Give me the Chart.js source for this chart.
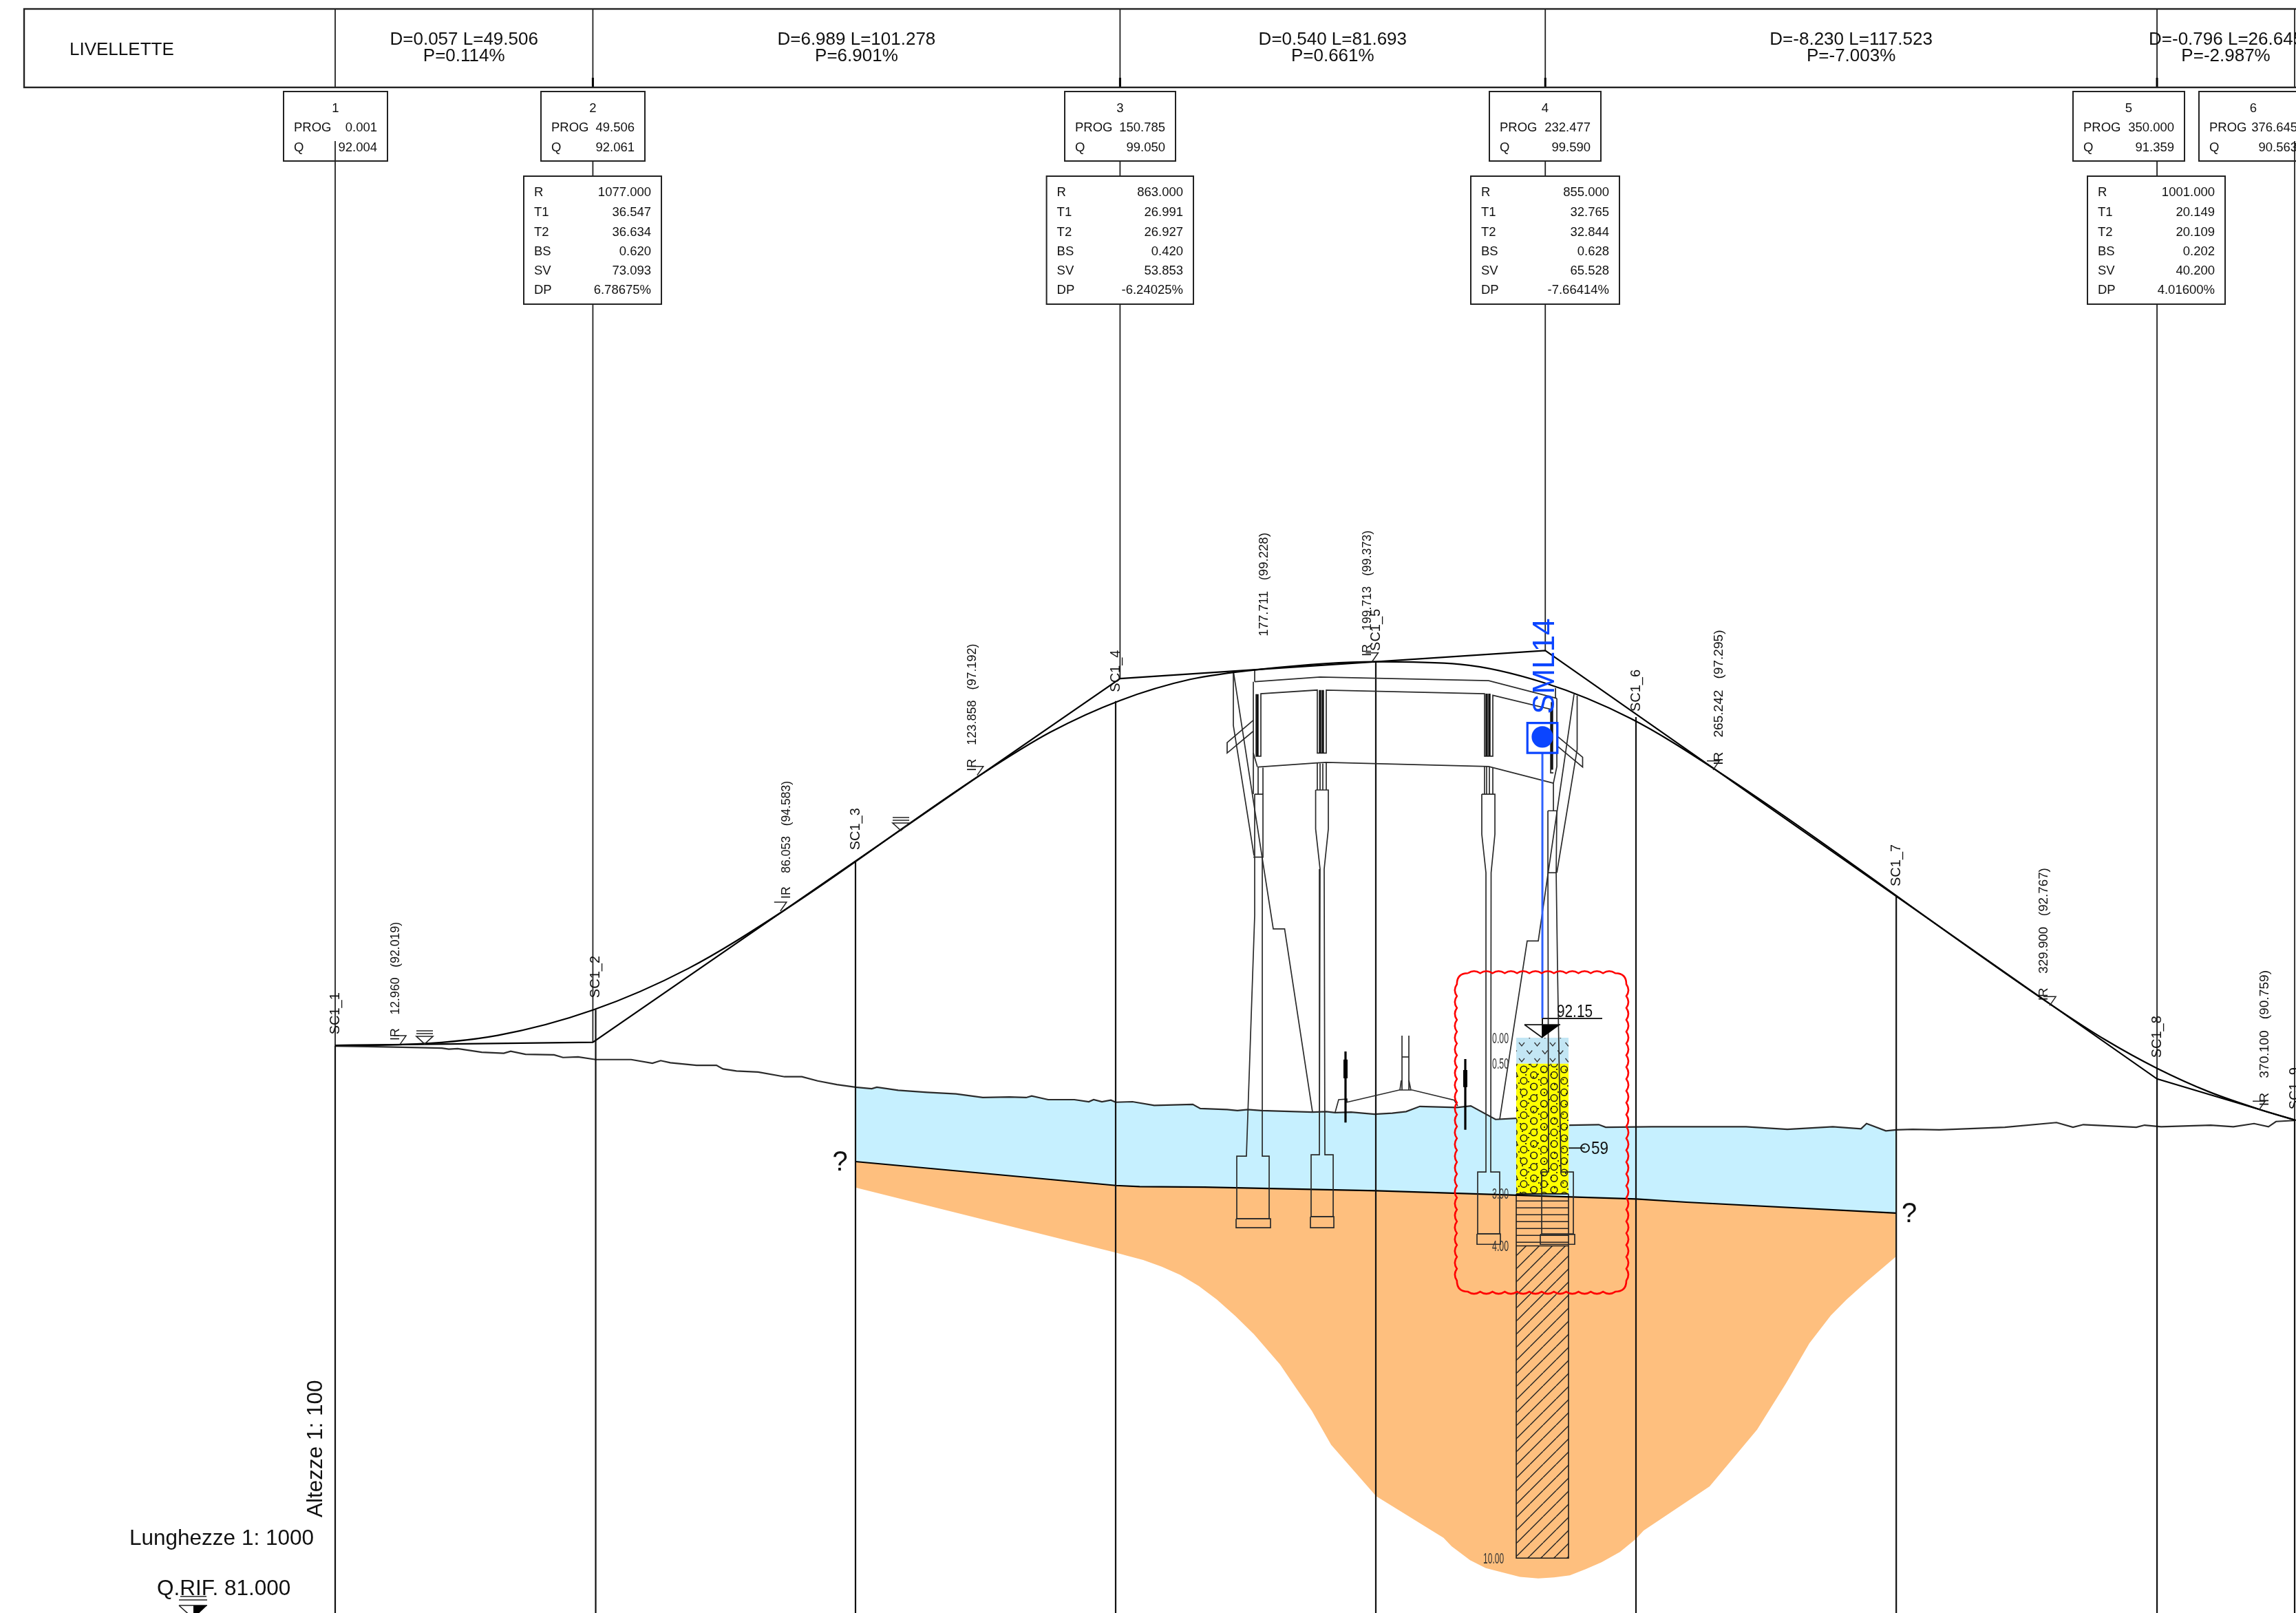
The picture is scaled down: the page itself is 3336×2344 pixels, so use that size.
<!DOCTYPE html>
<html><head><meta charset="utf-8">
<style>html,body{margin:0;padding:0;background:#fff}canvas{display:block}</style>
<script src="https://cdn.jsdelivr.net/npm/chart.js@4/dist/chart.umd.js"></script>
</head><body><canvas id="c" width="3336" height="2344"></canvas>
<script>
// ---- alignment (progressive in m, elevation in m)
const vertexNo   = [1,2,3,4,5,6];
const vertexProg = [0.001,49.506,150.785,232.477,350.000,376.645];
const vertexElev = [92.004,92.061,99.050,99.590,91.359,90.563];
const curveR  = [null,1077.000,863.000,855.000,1001.000,null];
const curveT1 = [null,36.547,26.991,32.765,20.149,null];
const curveT2 = [null,36.634,26.927,32.844,20.109,null];
const curveBS = [null,0.620,0.420,0.628,0.202,null];
const curveSV = [null,73.093,53.853,65.528,40.200,null];
const curveDP = [null,"6.78675%","-6.24025%","-7.66414%","4.01600%",null];
const slopeD = [0.057,6.989,0.540,-8.230,-0.796];
const slopeL = [49.506,101.278,81.693,117.523,26.645];
const slopeP = [0.114,6.901,0.661,-7.003,-2.987];

// tangent points
const irProg = [12.960,86.053,123.858,177.711,199.713,265.242,329.900,370.100];
const irElev = [92.019,94.583,97.192,99.228,99.373,97.295,92.767,90.759];
const irShown= [true,true,true,false,true,true,true,true];

// road surface
const roadProg = [0.001,12.96,31.23,49.51,67.78,86.053,123.858,137.32,150.785,164.25,177.711,199.713,216.1,232.477,248.86,265.242,329.9,340,350,360,370.1,376.645];
const roadElev = [92.004,92.019,92.195,92.681,93.477,94.583,97.192,98.017,98.63,99.035,99.228,99.373,99.324,98.962,98.285,97.295,92.767,92.113,91.562,91.11,90.759,90.563];

// cross sections
const sectionNames = ["SC1_1","SC1_2","SC1_3","SC1_4","SC1_5","SC1_6","SC1_7","SC1_8","SC1_9"];
const sectionProg  = [0.0,50.05,99.96,149.94,199.92,249.9,299.9,350.0,376.44];
const sectionElev  = [92.0,92.69,95.53,98.62,99.37,98.31,94.86,91.55,90.56];

// existing ground
const groundProg = [0,6.2,16.26,20.49,21.82,23.54,28.16,32.39,33.72,36.56,42.05,43.77,46.67,50.05,56.86,60.95,62.54,64.39,69.42,73.25,74.51,77.09,81.25,86.34,89.65,92.69,96.39,99.96,103.08,104.06,108.16,113.71,119.27,124.42,129.53,132.75,133.81,136.98,142.01,144.78,145.71,147.3,149.02,149.94,153.18,157.35,164.75,166.2,171.36,173.34,175.33,177.97,187.76,190.4,192.12,195.16,199.66,203.09,205.74,208.38,215.52,218.17,222.93,226.9,237.08,242.76,244.08,252.94,271.06,278.99,287.72,293.14,294.2,297.9,299.9,303.05,308.21,320.77,330.69,333.86,335.85,346.03,347.61,350.79,360.31,364.67,368.64,371.41,372.87,376.44];
const groundElev = [91.99,91.98,91.96,91.95,91.93,91.94,91.87,91.85,91.89,91.83,91.82,91.77,91.78,91.73,91.73,91.66,91.71,91.67,91.62,91.62,91.55,91.51,91.49,91.40,91.40,91.32,91.25,91.20,91.17,91.20,91.14,91.10,91.07,91.00,91.01,91.00,91.03,90.96,90.96,90.92,90.96,90.92,90.95,90.91,90.92,90.85,90.87,90.79,90.77,90.75,90.77,90.75,90.72,90.73,90.71,90.72,90.68,90.70,90.73,90.83,90.81,90.84,90.58,90.60,90.47,90.48,90.43,90.44,90.44,90.39,90.44,90.40,90.50,90.36,90.38,90.39,90.38,90.43,90.52,90.43,90.48,90.43,90.47,90.44,90.47,90.44,90.50,90.44,90.54,90.56];

// geology
const contactProg = [99.96,150,154.56,167,200,250,259.56,299.9];
const contactElev = [89.77,89.31,89.29,89.28,89.21,89.05,88.99,88.78];
const baseProg = [99.96,149.94,152.23,155.23,158.8,162.37,165.9,169.38,172.95,176.52,179.03,181.54,184.59,187.63,191.33,199.99,212.93,214.47,218.03,221.04,224.12,227.6,231.13,234.17,237.21,240.24,243.29,246.83,249.9,251.36,264.05,273.17,278.73,283.22,287.32,290.36,293.93,299.9];
const baseElev = [89.27,88.02,87.96,87.88,87.75,87.59,87.38,87.12,86.80,86.45,86.16,85.87,85.42,84.98,84.33,83.34,82.54,82.38,82.11,81.96,81.88,81.79,81.76,81.78,81.82,81.94,82.07,82.27,82.52,82.68,83.53,84.62,85.51,86.28,86.81,87.12,87.44,87.95];

// borehole SML14
const logName = "SML14";
const logLeft = 226.9, logRight = 236.94, logAxis = 231.92, logHead = 92.15;
const logDepths = [0,0.5,3,4,10];
const logDepthLabels = ["0.00","0.50","3.00","4.00","10.00"];
const sptDepth = 2.12, sptValue = "59";

// bridge, as flat prog,elev polylines
const deckLines = [
 [176.65,98.99,189.21,99.08,221.6,99.01,234.7,98.67],
 [176.39,98.99,176.39,97.62,177.18,97.35],
 [176.39,97.62,176.39,96.83],
 [176.92,98.75,176.92,97.56,177.84,97.56,177.84,98.76,188.68,98.83,188.68,97.62,190.4,97.62,190.4,98.83,220.81,98.76,220.81,97.56,222.4,97.56,222.4,98.73,233.51,98.46,233.51,97.24,234.04,97.24],
 [177.31,97.35,188.68,97.43,190.4,97.44,221.6,97.36,234.04,97.04],
 [234.7,98.67,234.7,97.36,234.04,97.04,234.04,96.51],
 [176.65,99.22,176.65,98.99],[234.44,98.87,234.44,98.67],
 [177.31,97.35,177.31,96.83],[178.24,97.34,178.24,96.83],
 [188.68,97.43,188.68,96.91],[189.21,97.42,189.21,96.91],[189.74,97.42,189.74,96.91],[190.4,97.44,190.4,96.91],
 [220.81,97.36,220.81,96.83],[221.21,97.36,221.21,96.83],[221.74,97.36,221.74,96.83],[222.4,97.34,222.4,96.83]
];
const diaphragmLines = [
 [177.18,98.75,177.18,97.56],[189.21,98.83,189.21,97.62],[189.74,98.83,189.74,97.62],
 [221.21,98.76,221.21,97.56],[221.74,98.76,221.74,97.56],[233.77,98.6,233.77,97.3]
];
const pierLines = [
 [176.65,96.83,176.65,94.5,175.06,89.875,173.21,89.875,173.21,88.67,179.43,88.67,179.43,89.875,178.11,89.875,178.11,95.62,178.24,95.62,178.24,96.83,176.65,96.83],
 [176.39,95.62,178.24,95.62],
 [173.08,88.67,179.69,88.67,179.69,88.5,173.08,88.5,173.08,88.67],
 [188.36,96.91,188.36,96.16,189.21,95.39,189.08,89.9,187.49,89.9,187.49,88.71,191.73,88.71,191.73,89.9,190.14,89.9,190.0,95.39,190.8,96.16,190.8,96.91,188.36,96.91],
 [187.36,88.71,191.86,88.71,191.86,88.5,187.36,88.5,187.36,88.71],
 [220.28,96.83,220.28,96.06,221.08,95.32,221.08,89.57,219.49,89.57,219.49,88.38,223.72,88.38,223.72,89.57,222.0,89.57,222.07,95.32,222.8,96.06,222.8,96.83,220.28,96.83],
 [219.36,88.38,223.85,88.38,223.85,88.18,219.36,88.18,219.36,88.38],
 [232.98,96.51,232.98,95.32,233.11,89.57,231.79,89.57,231.79,88.38,237.87,88.38,237.87,89.57,235.49,89.57,234.84,93.41,234.57,95.32,234.7,96.51,232.98,96.51],
 [232.98,95.32,234.57,95.32],
 [231.52,88.37,238.13,88.37,238.13,88.18,231.52,88.18,231.52,88.37]
];
const abutmentLines = [
 [172.55,99.20,172.55,98.15,176.52,95.65],
 [172.55,99.2,176.52,96.62,180.22,94.24,182.4,94.24,187.76,90.72],
 [176.39,98.25,171.36,97.82,171.36,97.62,176.39,98.04],
 [238.6,98.72,238.6,97.69,234.7,95.32],
 [238.0,98.75,231.13,94.01,229.0,94.01,223.72,90.58],
 [234.7,97.95,239.65,97.54,239.65,97.35,234.7,97.76]
];
const medianLines = [
 [192.12,90.72,192.78,90.96,194.37,90.97,194.37,90.91,204.42,91.145,206.93,91.145,214.99,90.95,215.65,90.84],
 [204.95,91.145,204.95,92.19],[206.27,91.145,206.27,92.19],[204.95,91.78,206.27,91.78],
 [204.55,91.145,204.81,91.33],[206.66,91.145,206.27,91.33]
];
const lampLines = [[194.1,91.885,194.1,90.52],[217.11,91.74,217.11,90.38]];
const lampHeads = [[194.1,91.73,194.1,91.37],[217.11,91.53,217.11,91.2]];

const surveyProg = [17.19,108.69];
const surveyElev = [92.03,96.13];
const cloudProg = [215.5,248.05], cloudElev = [93.39,87.27];
const unknownProg = [97.0,302.4], unknownElev = [89.76,88.77];

// ---- drawing frame
const W = 3336, H = 2344;
const xMin = -64.39, xMax = 376.70, yMin = 81.096, yMax = 112.089;
const elevAtPx = py => yMax - (py / H) * (yMax - yMin);
const FONT = '"Liberation Sans", Arial, sans-serif';
const INK = '#1c1c1c', THIN = '#2a2a2a';

// ---- table layout (page pixels)
const headerBox = {left:35, top:13, bottom:127};
const smallBoxes = [[412,563],[786,937],[1547,1708],[2164,2326],[3012,3174],[3195,3353]];
const largeBoxes = [null,[761,961],[1520.6,1734],[2137,2353],[3033,3233],null];
const dropGaps = [[[13,127],[205,null]],[[13,127],[234,256],[442,null]],[[13,127],[234,256],[442,null]],[[13,127],[234,256],[442,null]],[[13,127],[234,256],[442,null]],[[13,127],[205,null]]];
const irDx = [-10,5,-11,6,-10,5,-12,5];
const irLift = [6,18,6,48,8,7,7,6];
const irSize = [17.7,17.6,18,18.6,17.8,19.1,18.8,19.2];
const sectionLift = [16,17,17,13,16,8,15,16,16];

// ---- patterns
function tile(w,h,paint){const t=document.createElement('canvas');t.width=w;t.height=h;const g=t.getContext('2d');paint(g,w,h);return document.getElementById('c').getContext('2d').createPattern(t,'repeat');}
const gravel = tile(88,50,(g,w,h)=>{
  g.fillStyle='#ffff00';g.fillRect(0,0,w,h);
  g.strokeStyle='#1a1a1a';g.lineWidth=1.5;
  for(let i=0;i<6;i++)for(let j=0;j<3;j++){
    const x=14+i*14.667,y=4+(i%2?8.33:0)+j*16.667;
    for(const ox of [-w,0,w])for(const oy of [-h,0,h]){g.beginPath();g.arc(x+ox,y+oy,4.8,0,7);g.stroke();}
  }
  g.fillStyle='#111';
  const dots=[[3,9],[21,3],[28,15],[7,24],[24,30],[33,41],[42,8],[49,21],[56,33],[62,4],[71,19],[78,28],[84,45],[12,44],[39,27],[66,44],[51,48],[81,8],[5,14],[9,33],[21,22],[22,47],[35,11],[36,19],[44,38],[54,11],[59,26],[64,37],[75,5],[76,39],[85,24],[17,12]];
  dots.forEach(d=>{g.beginPath();g.arc(d[0],d[1],1.1,0,7);g.fill();});
});
const topsoil = tile(45,23,(g,w,h)=>{
  g.fillStyle='#c3e6f4';g.fillRect(0,0,w,h);
  g.strokeStyle='#333';g.lineWidth=1.3;
  const vv=(x,y)=>{for(const oy of [-h,0,h])for(const ox of [-w,0,w]){g.beginPath();g.moveTo(x+ox-4,y+oy-3);g.lineTo(x+ox,y+oy+2);g.lineTo(x+ox+4,y+oy-3);g.stroke();}};
  vv(6,0);vv(28.5,0);vv(17.25,11.5);vv(39.75,11.5);
});
const stripes = tile(4,10,(g,w,h)=>{g.fillStyle='#222';g.fillRect(0,4.5,w,1.5);});
const hatch = tile(19,19,(g,w,h)=>{
  g.strokeStyle='#222';g.lineWidth=1.4;
  for(const o of [-19,0,19]){g.beginPath();g.moveTo(o,19);g.lineTo(o+19,0);g.stroke();}
});

// ---- dataset helpers
const sets = [];
const toPts = (xs,ys)=>xs.map((x,i)=>({x,y:ys[i]}));
const flat = a=>{const p=[];for(let i=0;i<a.length;i+=2)p.push({x:a[i],y:a[i+1]});return p;};
function addLine(pts,color,width,extra){sets.push(Object.assign({data:pts,showLine:true,borderColor:color,borderWidth:width,pointRadius:0,fill:false,tension:0},extra||{}));}
function addShape(pts,bg,extra){sets.push(Object.assign({data:pts,showLine:true,borderColor:'rgba(0,0,0,0)',borderWidth:0,backgroundColor:bg,pointRadius:0,fill:'shape',tension:0},extra||{}));}

// geology fills
const blueTop = toPts(groundProg,groundElev).filter(p=>p.x>=99.96&&p.x<=299.9);
addShape(blueTop.concat(toPts(contactProg,contactElev).reverse()),'#c6f0ff');
addShape(toPts(contactProg,contactElev).concat(toPts(baseProg,baseElev).reverse()),'#febf7e');

// borehole layers
const logPattern=[topsoil,gravel,stripes,hatch];
for(let i=0;i<logDepths.length-1;i++){
  const a=logHead-logDepths[i],b=logHead-logDepths[i+1];
  addShape([{x:logLeft,y:a},{x:logRight,y:a},{x:logRight,y:b},{x:logLeft,y:b},{x:logLeft,y:a}],logPattern[i]);
}
const deep=logHead-logDepths[3], bot=logHead-logDepths[4], mid=logHead-logDepths[2];
addLine([{x:logLeft,y:mid},{x:logLeft,y:bot},{x:logRight,y:bot},{x:logRight,y:mid}],INK,1.6);
addLine([{x:logLeft,y:mid},{x:logRight,y:mid}],INK,1.6);
addLine([{x:logLeft,y:deep},{x:logRight,y:deep}],INK,1.6);

// ground and contact
addLine(toPts(groundProg,groundElev).filter(p=>p.x<=226.9),THIN,2.2);
addLine(toPts(groundProg,groundElev).filter(p=>p.x>=237),THIN,2.2);
addLine(toPts(contactProg,contactElev),'#000',2.2);

// section lines
sectionProg.forEach((x,i)=>addLine([{x,y:sectionElev[i]},{x,y:yMin}],'#111',2.2));

// vertex drop lines
vertexProg.forEach((x,i)=>{
  const px = i===5 ? 376.44 : x;
  const pts=[];
  dropGaps[i].forEach(g=>{pts.push({x:px,y:elevAtPx(g[0])});pts.push({x:px,y:g[1]===null?vertexElev[i]:elevAtPx(g[1])});pts.push({x:px,y:NaN});});
  addLine(pts,'#222',1.8);
  if(i>0&&i<5)addLine([{x,y:elevAtPx(113)},{x,y:elevAtPx(127)}],'#000',3);
});

// bridge
abutmentLines.concat(deckLines,pierLines,medianLines).forEach(l=>addLine(flat(l),THIN,1.7));
diaphragmLines.forEach(l=>addLine(flat(l),'#111',3.4));
lampLines.forEach(l=>addLine(flat(l),'#000',3.2));
lampHeads.forEach(l=>addLine(flat(l),'#000',6));

// alignment polygon and road curve
addLine(toPts(vertexProg,vertexElev),'#000',2.2);
addLine(toPts(roadProg,roadElev),'#000',2.2,{cubicInterpolationMode:'monotone'});

// borehole head marks
const headX=[228.48,235.36], headY=92.40;
addLine([{x:logAxis,y:97.62},{x:logAxis,y:92.52}],'#2f62ff',3);
addLine([{x:logAxis,y:92.52},{x:logAxis,y:logHead}],'#000',1.8);
addLine([{x:logAxis,y:92.52},{x:243.42,y:92.52}],'#222',1.8);
addShape([{x:logAxis,y:headY},{x:headX[1],y:headY},{x:logAxis,y:logHead},{x:logAxis,y:headY}],'#000');
addLine([{x:headX[0],y:headY},{x:headX[1],y:headY}],'#111',1.8);
addLine([{x:headX[0],y:headY},{x:logAxis,y:logHead}],'#111',1.8);
addLine([{x:logRight,y:logHead-sptDepth},{x:240.12,y:logHead-sptDepth}],'#111',1.8);
sets.push({data:[{x:240.12,y:logHead-sptDepth}],showLine:false,pointStyle:'circle',pointRadius:6,pointBorderColor:'#111',pointBorderWidth:1.8,pointBackgroundColor:'rgba(0,0,0,0)'});
sets.push({data:[{x:logAxis,y:97.91}],showLine:false,pointStyle:'rect',pointRadius:30.8,pointBorderColor:'#0b45ff',pointBorderWidth:3.2,pointBackgroundColor:'rgba(0,0,0,0)'});
sets.push({data:[{x:logAxis,y:97.93}],showLine:false,pointStyle:'circle',pointRadius:15.6,pointBorderColor:'#0b45ff',pointBorderWidth:0,pointBackgroundColor:'#0b45ff'});

sets.forEach((s,i)=>{s.order=sets.length-i;});

// ---- annotations and text
const notes = {
  id:'notes',
  afterDatasetsDraw(chart){
    const c=chart.ctx, X=chart.scales.x, Y=chart.scales.y;
    const px=v=>X.getPixelForValue(v), py=v=>Y.getPixelForValue(v);
    c.save();
    const text=(s,x,y,size,align,color,maxW)=>{
      c.font=size+'px '+FONT;c.textAlign=align||'left';c.textBaseline='middle';c.fillStyle=color||'#111';
      if(maxW)c.fillText(s,x,y+1.5,maxW);else c.fillText(s,x,y+1.5);
    };
    const up=(s,x,y,size,color,base)=>{
      c.save();c.translate(x,y);c.rotate(-Math.PI/2);c.font=size+'px '+FONT;c.textAlign='left';c.textBaseline=base||'middle';c.fillStyle=color||'#111';c.fillText(s,0,0);c.restore();
    };
    const frame=(l,t,r,b,w)=>{c.strokeStyle='#222';c.lineWidth=w||2;c.strokeRect(l,t,r-l,b-t);};

    // header band
    frame(headerBox.left,headerBox.top,W+4,headerBox.bottom,2.4);
    text('LIVELLETTE',101,71,26);
    slopeD.forEach((d,i)=>{
      const a=px(vertexProg[i]), b=i===4?px(376.44):px(vertexProg[i+1]), m=(a+b)/2;
      text('D='+d.toFixed(3)+' L='+slopeL[i].toFixed(3),m,56,26,'center');
      text('P='+slopeP[i].toFixed(3)+'%',m,80,26,'center');
    });

    // vertex tables
    smallBoxes.forEach((b,i)=>{
      frame(b[0],133,b[1],234);
      text(String(vertexNo[i]),(b[0]+b[1])/2,156,18.5,'center');
      text('PROG',b[0]+15,184,18.5);
      text(vertexProg[i].toFixed(3),b[1]-15,184,18.5,'right');
      text('Q',b[0]+15,213,18.5);
      text(vertexElev[i].toFixed(3),b[1]-15,213,18.5,'right');
    });
    const rows=['R','T1','T2','BS','SV','DP'], rowY=[278,307,336,364,392,420];
    largeBoxes.forEach((b,i)=>{
      if(!b)return;
      frame(b[0],256,b[1],442);
      const vals=[curveR[i].toFixed(3),curveT1[i].toFixed(3),curveT2[i].toFixed(3),curveBS[i].toFixed(3),curveSV[i].toFixed(3),curveDP[i]];
      rows.forEach((r,k)=>{text(r,b[0]+15,rowY[k],18.5);text(vals[k],b[1]-15,rowY[k],18.5,'right');});
    });

    // section names
    sectionNames.forEach((n,i)=>up(n,px(sectionProg[i]),py(sectionElev[i])-sectionLift[i],20));

    // tangent point labels and ticks
    irProg.forEach((p,i)=>{
      const x=px(p), y=py(irElev[i]);
      const s=(irShown[i]?'IR    ':'')+p.toFixed(3)+'   ('+irElev[i].toFixed(3)+')';
      up(s,x+irDx[i],y-irLift[i],irSize[i]);
      if(irShown[i]){
        c.strokeStyle='#222';c.lineWidth=1.5;c.beginPath();
        c.moveTo(x-4,y);c.lineTo(x+5,y-13);c.lineTo(x-13,y-13);c.stroke();
      }
    });

    // survey markers
    surveyProg.forEach((p,i)=>{
      const x=px(p), y=py(surveyElev[i]);
      c.strokeStyle='#222';c.lineWidth=1.6;c.beginPath();
      c.moveTo(x,y);c.lineTo(x-12,y-11);c.lineTo(x+12,y-11);c.closePath();
      c.moveTo(x-12,y-15);c.lineTo(x+12,y-15);c.moveTo(x-12,y-19);c.lineTo(x+12,y-19);c.stroke();
    });

    // borehole texts
    logDepthLabels.forEach((s,i)=>{
      const y=py(logHead-logDepths[i]);
      if(i===4)text(s,px(logLeft)-48,y,22,'left','#333',30);
      else text(s,px(logLeft)-35,y,22,'left','#333',24);
    });
    c.font='25px '+FONT;c.textAlign='left';c.textBaseline='alphabetic';c.fillStyle='#111';
    c.fillText(logHead.toFixed(2),2262,py(logHead)-30,52);
    c.fillText(sptValue,px(240.12)+9,py(logHead-sptDepth)+9,25);
    up(logName,px(logAxis)+17,py(97.93)-33,44,'#0b45ff','alphabetic');

    // unknown limits
    unknownProg.forEach((p,i)=>{text('?',px(p),py(unknownElev[i]),40,'center');});

    // revision cloud
    const L=px(cloudProg[0]),R=px(cloudProg[1]),T=py(cloudElev[0]),B=py(cloudElev[1]),r=16,amp=6,wave=17.5;
    const side=(x0,y0,x1,y1,nx,ny)=>{
      const len=Math.hypot(x1-x0,y1-y0),n=Math.round(len/wave);
      for(let k=0;k<n;k++){
        const a=k/n,b=(k+1)/n,m=(a+b)/2;
        c.quadraticCurveTo(x0+(x1-x0)*m+nx*amp,y0+(y1-y0)*m+ny*amp,x0+(x1-x0)*b,y0+(y1-y0)*b);
      }
    };
    c.strokeStyle='#ff0000';c.lineWidth=2.6;c.beginPath();c.moveTo(L+r,T);
    side(L+r,T,R-r,T,0,-1);c.quadraticCurveTo(R,T,R,T+r);
    side(R,T+r,R,B-r,1,0);c.quadraticCurveTo(R,B,R-r,B);
    side(R-r,B,L+r,B,0,1);c.quadraticCurveTo(L,B,L,B-r);
    side(L,B-r,L,T+r,-1,0);c.quadraticCurveTo(L,T,L+r,T);
    c.stroke();

    // scales note
    c.font='31.5px '+FONT;c.textAlign='left';c.textBaseline='alphabetic';c.fillStyle='#111';
    c.fillText('Lunghezze 1: 1000',188,2245);
    c.fillText('Q.RIF. 81.000',228,2318);
    up('Altezze 1: 100',468,2205,31.5,'#111','alphabetic');
    c.strokeStyle='#222';c.lineWidth=1.6;
    c.beginPath();c.moveTo(260,2325);c.lineTo(301,2325);c.moveTo(262,2320);c.lineTo(300,2320);
    c.moveTo(260,2333);c.lineTo(301,2333);c.moveTo(260,2333);c.lineTo(281,2352);c.stroke();
    c.fillStyle='#000';c.beginPath();c.moveTo(281,2333);c.lineTo(301,2333);c.lineTo(281,2352);c.closePath();c.fill();
    c.restore();
  }
};

new Chart(document.getElementById('c'),{
  type:'scatter',
  data:{datasets:sets},
  options:{
    responsive:false,animation:false,devicePixelRatio:1,events:[],
    layout:{padding:0,autoPadding:false},
    scales:{
      x:{type:'linear',display:false,min:xMin,max:xMax},
      y:{type:'linear',display:false,min:yMin,max:yMax}
    },
    plugins:{legend:{display:false},tooltip:{enabled:false},title:{display:false},filler:{propagate:false}},
    elements:{line:{capBezierPoints:true}}
  },
  plugins:[notes]
});
</script></body></html>
